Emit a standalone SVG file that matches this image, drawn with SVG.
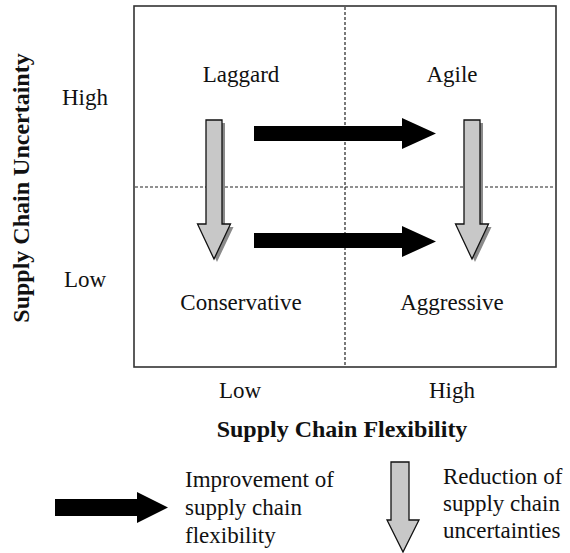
<svg xmlns="http://www.w3.org/2000/svg" width="570" height="553" viewBox="0 0 570 553">
<style>
text{font-family:"Liberation Serif","Times New Roman",serif;fill:#111;}
.lbl{font-size:23px;}
.ttl{font-size:24px;font-weight:bold;}
.mid{text-anchor:middle;}
.dash{stroke:#222;stroke-width:1.2;stroke-dasharray:3 2;fill:none;}
.blk{fill:#000;}
.gry{fill:#c8c8c8;stroke:#111;stroke-width:1.3;stroke-linejoin:miter;}
.shd{fill:#8a8a8a;}
</style>
<defs>
<path id="down" d="M-8,0 H8 V104 H16.5 L0,139 L-16.5,104 H-8 Z"/>
</defs>
<rect width="570" height="553" fill="#fff"/>
<g id="frame">
<rect x="134" y="6" width="422" height="361" fill="none" stroke="#333" stroke-width="1.6"/>
<line class="dash" x1="345" y1="7" x2="345" y2="366"/>
<line class="dash" x1="135" y1="187" x2="555" y2="187"/>
</g>
<g id="laggard"><text class="lbl mid" x="241" y="82">Laggard</text></g>
<g id="agile"><text class="lbl mid" x="452" y="82">Agile</text></g>
<g id="conservative"><text class="lbl mid" x="241" y="310">Conservative</text></g>
<g id="aggressive"><text class="lbl mid" x="452" y="310">Aggressive</text></g>
<g id="axes">
<text class="lbl mid" x="85" y="105">High</text>
<text class="lbl mid" x="85" y="287">Low</text>
<text class="lbl mid" x="240" y="398">Low</text>
<text class="lbl mid" x="452" y="398">High</text>
<text class="ttl mid" x="342" y="437">Supply Chain Flexibility</text>
<text class="ttl mid" transform="translate(29,188) rotate(-90)">Supply Chain Uncertainty</text>
</g>
<g id="connectors">
<path class="blk" d="M254,126 H402 V118 L436,133.5 L402,149 V141 H254 Z"/>
<path class="blk" d="M254,233 H402 V226 L436,241.5 L402,257 V248 H254 Z"/>
<use href="#down" class="shd" transform="translate(217,123)"/>
<use href="#down" class="gry" transform="translate(214,120)"/>
<use href="#down" class="shd" transform="translate(475,123)"/>
<use href="#down" class="gry" transform="translate(472,120)"/>
</g>
<g id="legend-flex">
<path class="blk" d="M55,499 H137 V492 L168,507.5 L137,523 V516 H55 Z"/>
<text class="lbl" x="185" y="487">Improvement of</text>
<text class="lbl" x="185" y="515">supply chain</text>
<text class="lbl" x="185" y="543">flexibility</text>
</g>
<g id="legend-unc">
<path class="gry" d="M391,462 H409 V520 H419 L403,552 L387,520 H391 Z"/>
<text class="lbl" x="443" y="484">Reduction of</text>
<text class="lbl" x="443" y="511">supply chain</text>
<text class="lbl" x="443" y="538">uncertainties</text>
</g>
</svg>
